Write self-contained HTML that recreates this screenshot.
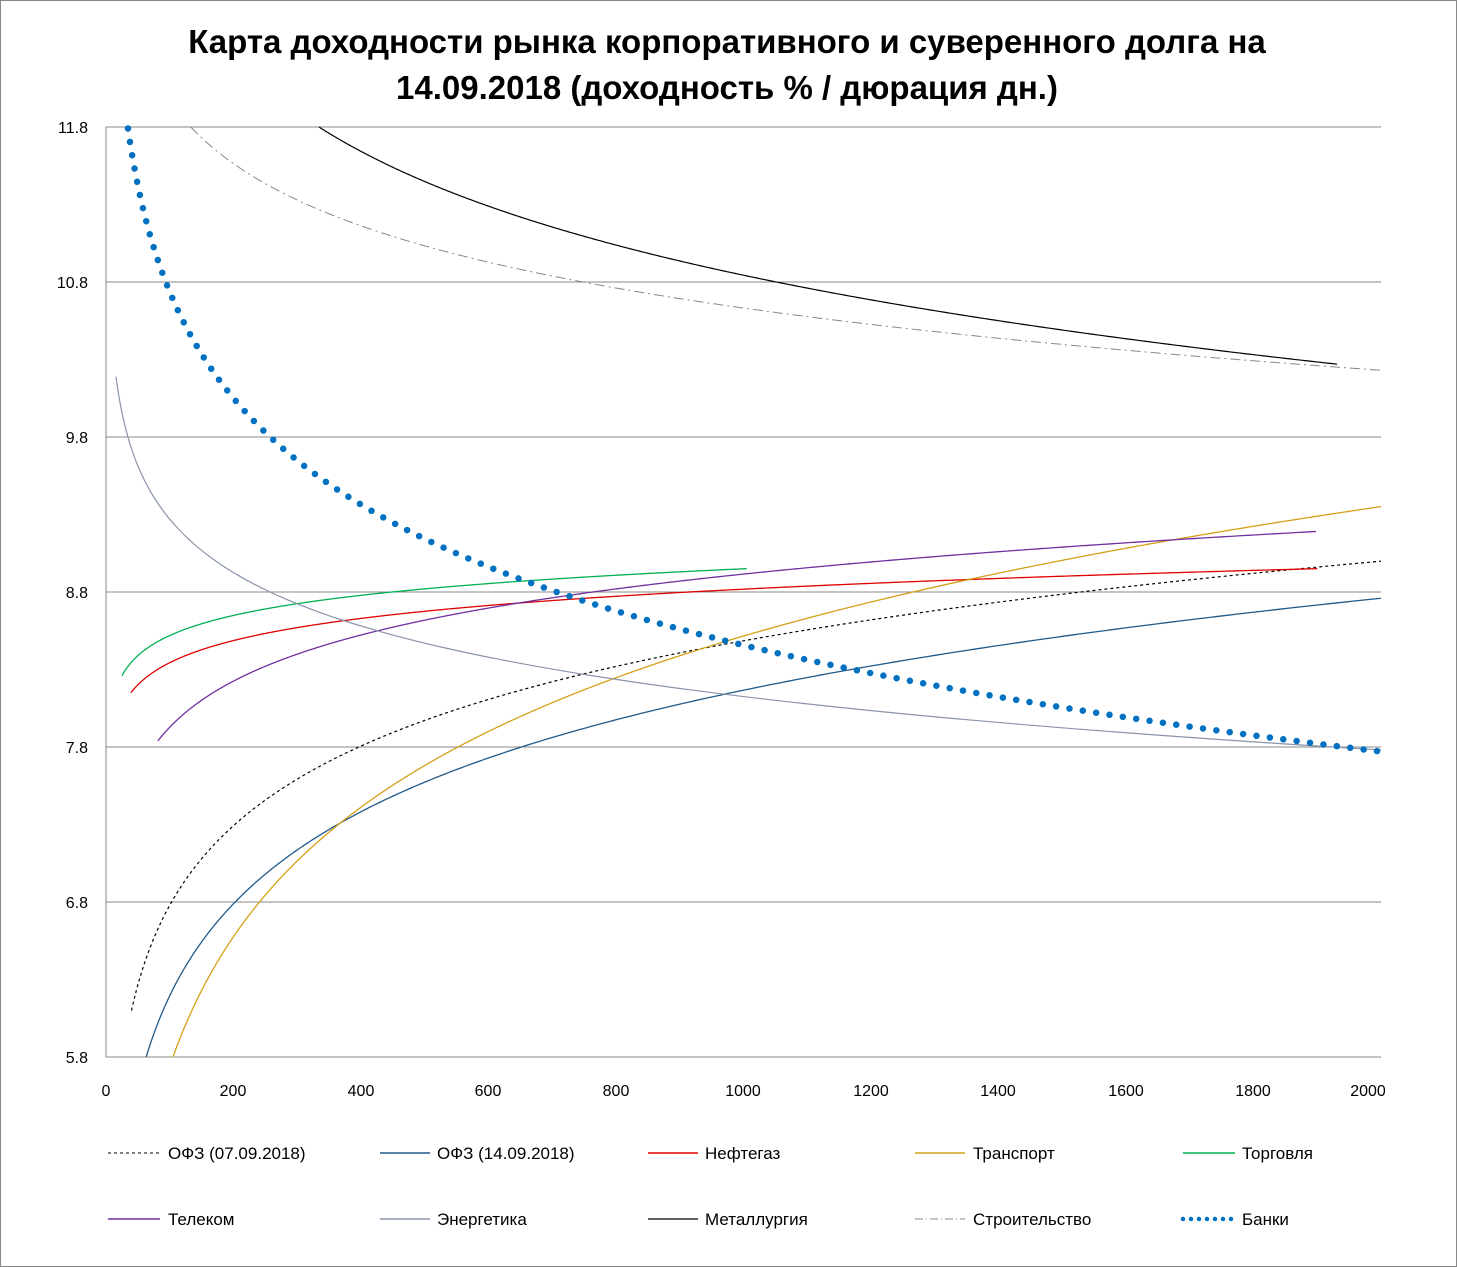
<!DOCTYPE html>
<html><head><meta charset="utf-8"><style>
body{margin:0;background:#fff}
svg{display:block;font-family:"Liberation Sans","DejaVu Sans",sans-serif}
</style></head><body>
<svg id="s" width="1457" height="1267" xmlns="http://www.w3.org/2000/svg">
<rect x="0.5" y="0.5" width="1456" height="1266" fill="#fff" stroke="#888"/>
<text x="727" y="53" font-size="33" font-weight="bold" text-anchor="middle">Карта доходности рынка корпоративного и суверенного долга на</text>
<text x="727" y="99" font-size="33" font-weight="bold" text-anchor="middle">14.09.2018 (доходность % / дюрация дн.)</text>
<g stroke="#888" stroke-width="1">
<line x1="106" y1="127" x2="1381" y2="127"/><line x1="106" y1="282" x2="1381" y2="282"/>
<line x1="106" y1="437" x2="1381" y2="437"/><line x1="106" y1="592" x2="1381" y2="592"/>
<line x1="106" y1="747" x2="1381" y2="747"/><line x1="106" y1="902" x2="1381" y2="902"/>
<line x1="106" y1="1057" x2="1381" y2="1057"/><line x1="106" y1="127" x2="106" y2="1057"/>
</g>
<g font-size="16" text-anchor="end">
<text x="88" y="133">11.8</text><text x="88" y="288">10.8</text><text x="88" y="443">9.8</text>
<text x="88" y="598">8.8</text><text x="88" y="753">7.8</text><text x="88" y="908">6.8</text><text x="88" y="1063">5.8</text>
</g>
<g font-size="16" text-anchor="middle">
<text x="106" y="1096">0</text><text x="233" y="1096">200</text><text x="361" y="1096">400</text>
<text x="488" y="1096">600</text><text x="616" y="1096">800</text><text x="743" y="1096">1000</text>
<text x="871" y="1096">1200</text><text x="998" y="1096">1400</text><text x="1126" y="1096">1600</text>
<text x="1253" y="1096">1800</text><text x="1368" y="1096">2000</text>
</g>
<g id="curves" fill="none"></g>
<g font-size="17">
<line x1="108" y1="1153" x2="160" y2="1153" stroke="#000" stroke-dasharray="3 3"/><text x="168" y="1159">ОФЗ (07.09.2018)</text>
<line x1="380" y1="1153" x2="430" y2="1153" stroke="#1f5a8a" stroke-width="1.5"/><text x="437" y="1159">ОФЗ (14.09.2018)</text>
<line x1="648" y1="1153" x2="698" y2="1153" stroke="#e00000" stroke-width="1.5"/><text x="705" y="1159">Нефтегаз</text>
<line x1="915" y1="1153" x2="965" y2="1153" stroke="#d4a017" stroke-width="1.5"/><text x="973" y="1159">Транспорт</text>
<line x1="1183" y1="1153" x2="1235" y2="1153" stroke="#00b050" stroke-width="1.5"/><text x="1242" y="1159">Торговля</text>
<line x1="108" y1="1219" x2="160" y2="1219" stroke="#7030a0" stroke-width="1.5"/><text x="168" y="1225">Телеком</text>
<line x1="380" y1="1219" x2="430" y2="1219" stroke="#8a94aa" stroke-width="1.5"/><text x="437" y="1225">Энергетика</text>
<line x1="648" y1="1219" x2="698" y2="1219" stroke="#000" stroke-width="1.3"/><text x="705" y="1225">Металлургия</text>
<line x1="915" y1="1219" x2="965" y2="1219" stroke="#888" stroke-dasharray="8 3 1 3"/><text x="973" y="1225">Строительство</text>
<line x1="1183" y1="1219" x2="1235" y2="1219" stroke="#0070c0" stroke-width="4.5" stroke-linecap="round" stroke-dasharray="0 8"/><text x="1242" y="1225">Банки</text>
</g>
</svg>
<script>
(function(){
var g=document.getElementById('curves');
function X(d){return 106+d*0.6375;}
function Y(v){return 1057-(v-5.8)*155;}
var S=[
 [40,6.1,2000,0.741,'#000',1.2,'3 3'],
 [63,5.8,2000,0.856,'#1f5a8a',1.3,null],
 [39,8.15,1900,0.206,'#e00000',1.3,null],
 [105,5.8,2000,1.205,'#d4a017',1.3,null],
 [25,8.26,1005,0.187,'#00b050',1.3,null],
 [81.5,7.84,1898,0.429,'#7030a0',1.3,null],
 [15.7,10.19,2000,-0.497,'#8a94aa',1.2,null],
 [334,11.8,1931,-0.872,'#000',1.2,null],
 [133,11.8,2000,-0.579,'#888',1,'10 4 2 4'],
 [34.5,11.79,2000,-0.99,'#0070c0',6.5,'0 13.5','round']
];
S.forEach(function(s){
 var pts=[],n=600;
 for(var i=0;i<=n;i++){var d=s[0]*Math.pow(s[2]/s[0],i/n);var v=s[1]+s[3]*Math.log(d/s[0]);pts.push(X(d).toFixed(2)+','+Y(v).toFixed(2));}
 var p=document.createElementNS('http://www.w3.org/2000/svg','polyline');
 p.setAttribute('points',pts.join(' '));p.setAttribute('stroke',s[4]);p.setAttribute('stroke-width',s[5]);p.setAttribute('fill','none');
 if(s[6])p.setAttribute('stroke-dasharray',s[6]);
 if(s[7])p.setAttribute('stroke-linecap',s[7]);
 g.appendChild(p);
});
})();
</script>
</body></html>
